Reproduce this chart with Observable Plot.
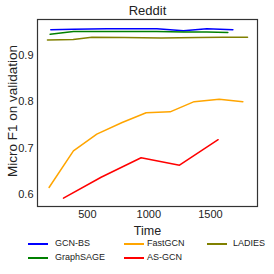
<!DOCTYPE html>
<html>
<head>
<meta charset="utf-8">
<script src="https://cdn.jsdelivr.net/npm/d3@7"></script>
<script src="https://cdn.jsdelivr.net/npm/@observablehq/plot@0.6"></script>
<style>
  html, body { margin: 0; padding: 0; background: #fff; }
  #wrap { position: relative; width: 274px; height: 274px; font-family: "Liberation Sans", Arial, sans-serif; }
  .leg { position: absolute; font-size: 9px; color: #222; line-height: 1; }
  .sw { position: absolute; height: 2px; width: 20px; }
</style>
</head>
<body>
<div id="wrap"></div>
<script>
const titleText = "Reddit";
const xLabel = "Time";
const yLabel = "Micro F1 on validation";
const xTicks = [500, 1000, 1500];
const yTicks = [0.6, 0.7, 0.8, 0.9];

const seriesNames = ["GCN-BS", "GraphSAGE", "FastGCN", "AS-GCN", "LADIES"];
const seriesColors = ["#0000ff", "#008000", "#ffa500", "#ff0000", "#808000"];

const gcnbsTime = [203, 387, 659, 1065, 1281, 1472, 1683];
const gcnbsF1   = [0.955, 0.956, 0.957, 0.957, 0.953, 0.957, 0.955];

const sageTime = [198, 387, 659, 1065, 1281, 1472, 1642];
const sageF1   = [0.945, 0.951, 0.951, 0.951, 0.950, 0.950, 0.949];

const fastTime = [189, 387, 577, 783, 978, 1173, 1368, 1572, 1764];
const fastF1   = [0.615, 0.694, 0.730, 0.755, 0.776, 0.778, 0.800, 0.805, 0.800];

const asgcnTime = [306, 612, 937, 1249, 1563];
const asgcnF1   = [0.592, 0.637, 0.679, 0.663, 0.718];

const ladiesTime = [176, 385, 537, 800, 1100, 1400, 1600, 1802];
const ladiesF1   = [0.933, 0.934, 0.939, 0.938, 0.937, 0.938, 0.939, 0.939];

const seriesTimes = [gcnbsTime, sageTime, fastTime, asgcnTime, ladiesTime];
const seriesVals = [gcnbsF1, sageF1, fastF1, asgcnF1, ladiesF1];

const rows = [];
seriesNames.forEach((name, i) => {
  seriesTimes[i].forEach((t, j) => rows.push({series: name, time: t, f1: seriesVals[i][j]}));
});

const chart = Plot.plot({
  width: 274,
  height: 238,
  marginLeft: 37,
  marginRight: 17,
  marginTop: 19,
  marginBottom: 32,
  style: {fontFamily: "Liberation Sans, Arial, sans-serif", fontSize: "11px", color: "#222", background: "white"},
  x: {domain: [95, 1883]},
  y: {domain: [0.574, 0.977]},
  color: {domain: seriesNames, range: seriesColors},
  marks: [
    Plot.axisX({ticks: xTicks, tickSize: 0, tickPadding: 4, label: null, fontSize: 11, tickFormat: d => String(d)}),
    Plot.axisY({ticks: yTicks, tickSize: 0, tickPadding: 4, label: null, fontSize: 11, tickFormat: d3.format(".1f")}),
    Plot.line(rows, {x: "time", y: "f1", z: "series", stroke: "series", strokeWidth: 1.5}),
    Plot.frame({stroke: "#333", strokeWidth: 1.2}),
    Plot.text([titleText], {text: d => d, frameAnchor: "top", lineAnchor: "middle", textAnchor: "middle", dy: -9, fontSize: 13}),
    Plot.text([xLabel], {text: d => d, frameAnchor: "bottom", lineAnchor: "middle", textAnchor: "middle", dy: 24, fontSize: 12.5}),
    Plot.text([yLabel], {text: d => d, frameAnchor: "left", lineAnchor: "middle", textAnchor: "middle", dx: -25, dy: -2, rotate: -90, fontSize: 13.5})
  ]
});
const wrap = document.getElementById("wrap");
chart.style.position = "absolute";
chart.style.left = "0px";
chart.style.top = "0px";
wrap.appendChild(chart);

// legend (3 columns, column-major)
const legPos = [
  {lx: 28, tx: 55, y: 244},
  {lx: 28, tx: 55, y: 258},
  {lx: 124, tx: 147, y: 244},
  {lx: 124, tx: 147, y: 258},
  {lx: 207, tx: 233, y: 244}
];
seriesNames.forEach((name, i) => {
  const p = legPos[i];
  const sw = document.createElement("div");
  sw.className = "sw";
  sw.style.left = p.lx + "px";
  sw.style.top = (p.y - 1) + "px";
  sw.style.background = seriesColors[i];
  wrap.appendChild(sw);
  const t = document.createElement("div");
  t.className = "leg";
  t.textContent = name;
  t.style.left = p.tx + "px";
  t.style.top = (p.y - 5) + "px";
  wrap.appendChild(t);
});
</script>
</body>
</html>
